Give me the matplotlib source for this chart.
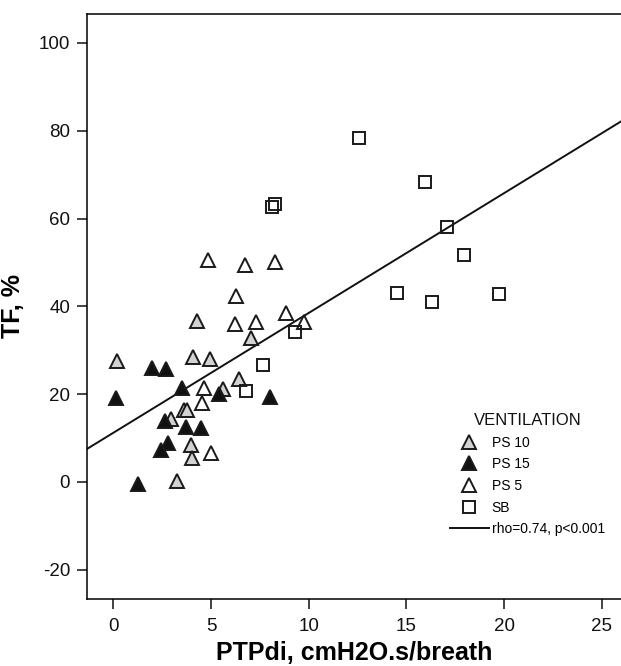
import matplotlib
matplotlib.use("Agg")
import matplotlib.pyplot as plt
from matplotlib.lines import Line2D

plt.rcParams["font.family"] = ["Liberation Sans", "DejaVu Sans"]
plt.rcParams["axes.unicode_minus"] = False

# PS 10 (grey triangles)
ps10_x = [4.28, 7.05, 0.20, 4.06, 4.96, 5.61, 6.45, 3.62, 3.79, 2.95, 3.98, 4.03, 3.26]
ps10_y = [36.7, 32.9, 27.6, 28.5, 28.0, 21.1, 23.4, 16.4, 16.4, 14.4, 8.4, 5.5, 0.3]

# PS 15 (black triangles)
ps15_x = [1.96, 2.68, 0.12, 3.53, 5.39, 8.02, 2.65, 3.70, 4.49, 2.78, 2.44, 1.25]
ps15_y = [26.0, 25.8, 19.2, 21.4, 20.1, 19.3, 14.0, 12.6, 12.2, 8.8, 7.3, -0.5]

# PS 5 (open triangles)
ps5_x = [4.83, 6.72, 8.29, 6.26, 6.23, 7.32, 8.84, 9.78, 4.64, 4.56, 5.00]
ps5_y = [50.6, 49.4, 50.0, 42.4, 36.1, 36.4, 38.6, 36.5, 21.5, 17.9, 6.5]

# SB (open squares)
sb_x = [12.55, 15.94, 8.11, 8.29, 17.06, 17.96, 14.53, 16.33, 19.75, 9.32, 7.65, 6.81]
sb_y = [78.3, 68.3, 62.7, 63.3, 58.1, 51.8, 43.1, 41.1, 42.8, 34.1, 26.7, 20.8]

# fitted line
fit_intercept = 11.2
fit_slope = 2.73
fit_label = "rho=0.74, p<0.001"

x_ticks = [0, 5, 10, 15, 20, 25]
y_ticks = [-20, 0, 20, 40, 60, 80, 100]
xlim = (-1.36, 25.98)
ylim = (-26.65, 106.6)

GREY = "#d2d2d2"
EDGE = "#1a1a1a"


def main() -> None:
    fig = plt.figure(figsize=(6.21, 6.66), dpi=100)
    ax = fig.add_axes([0.1396, 0.1006, 0.8604, 0.8784])
    ax.set_xlim(*xlim)
    ax.set_ylim(*ylim)

    ax.plot(list(xlim), [fit_intercept + fit_slope * v for v in xlim],
            color="#111111", lw=1.4, zorder=2)

    tri = dict(linestyle="none", marker="^", ms=10.5, mew=1.4, mec=EDGE, zorder=3)
    ax.plot(ps10_x, ps10_y, mfc=GREY, **tri)
    ax.plot(ps15_x, ps15_y, mfc="#111111", **tri)
    ax.plot(ps5_x, ps5_y, mfc="white", **tri)
    ax.plot(sb_x, sb_y, linestyle="none", marker="s", ms=8, mew=1.4, mec=EDGE,
            mfc="none", zorder=3)

    ax.set_xticks(x_ticks)
    ax.set_yticks(y_ticks)
    ax.tick_params(direction="out", length=7, width=1.1, labelsize=13.5,
                   colors="#111111")
    ax.tick_params(axis="x", pad=7)
    ax.tick_params(axis="y", pad=5)
    ax.spines["right"].set_visible(False)
    for s in ("left", "top", "bottom"):
        ax.spines[s].set_linewidth(1.1)

    ax.set_xlabel("PTPdi, cmH2O.s/breath", fontsize=18, fontweight="bold", labelpad=4)
    ax.set_ylabel("TF, %", fontsize=18, fontweight="bold", labelpad=10)

    handles = [
        Line2D([], [], linestyle="none", marker="^", ms=10.5, mew=1.4, mec=EDGE, mfc=GREY),
        Line2D([], [], linestyle="none", marker="^", ms=10.5, mew=1.4, mec=EDGE, mfc="#111111"),
        Line2D([], [], linestyle="none", marker="^", ms=10.5, mew=1.4, mec=EDGE, mfc="white"),
        Line2D([], [], linestyle="none", marker="s", ms=8, mew=1.4, mec=EDGE, mfc="none"),
        Line2D([], [], color="#111111", lw=1.4),
    ]
    labels = ["PS 10", "PS 15", "PS 5", "SB", fit_label]
    leg = ax.legend(handles, labels, title="VENTILATION", frameon=False,
                    loc="upper left", bbox_to_anchor=(450 / 621, 1 - 413 / 666),
                    bbox_transform=fig.transFigure, borderpad=0, borderaxespad=0,
                    fontsize=10, title_fontsize=12, handlelength=2.8,
                    handletextpad=0.2, labelspacing=0.55)
    leg.get_title().set_color("#111111")

    fig.savefig("out.png", dpi=100)
    plt.close(fig)


if __name__ == "__main__":
    main()
